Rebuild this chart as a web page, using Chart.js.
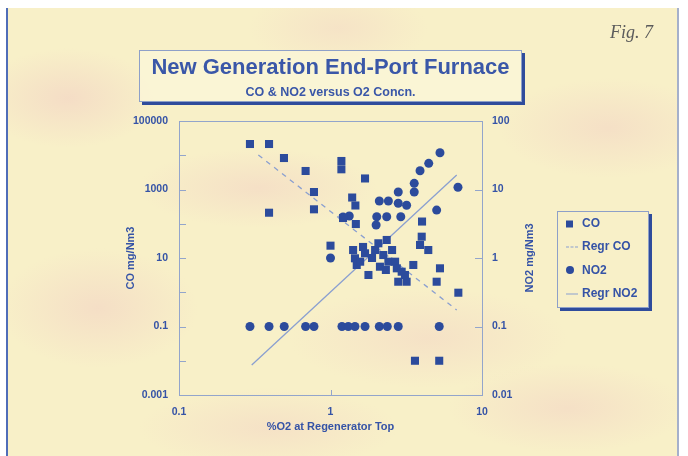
<!DOCTYPE html>
<html>
<head>
<meta charset="utf-8">
<script src="https://cdn.jsdelivr.net/npm/chart.js@4.4.1/dist/chart.umd.min.js"></script>
<style>
  html, body { margin: 0; padding: 0; background: #fff; }
  body { width: 688px; height: 456px; position: relative; overflow: hidden; font-family: "Liberation Sans", Arial, sans-serif; }
  .paper {
    position: absolute; left: 6px; top: 8px; width: 669px; height: 448px;
    border-left: 2px solid #4f6db8; border-right: 2px solid #a5b0cb;
    background:
      radial-gradient(ellipse 90px 50px at 60px 90px, rgba(242,208,196,.6), transparent),
      radial-gradient(ellipse 120px 40px at 250px 180px, rgba(242,208,196,.5), transparent),
      radial-gradient(ellipse 100px 60px at 90px 300px, rgba(242,208,196,.55), transparent),
      radial-gradient(ellipse 140px 50px at 420px 330px, rgba(242,208,196,.45), transparent),
      radial-gradient(ellipse 110px 50px at 600px 120px, rgba(242,208,196,.5), transparent),
      radial-gradient(ellipse 120px 45px at 560px 400px, rgba(242,208,196,.5), transparent),
      radial-gradient(ellipse 130px 40px at 260px 420px, rgba(242,208,196,.45), transparent),
      radial-gradient(ellipse 90px 40px at 330px 20px, rgba(242,208,196,.4), transparent),
      #f8f0c8;
  }
  #chart { position: absolute; left: 0; top: 0; }
  .fig { position: absolute; left: 610px; top: 22px; font: italic 18px "Liberation Serif", serif; color: #5b5b5b; }
  .titlebox {
    position: absolute; left: 139px; top: 50px; width: 381px; height: 50px;
    border: 1px solid #8ea0c8; box-shadow: 3px 3px 0 #2f4c9c; background: rgba(252,248,222,.6);
  }
  .t1 { position: absolute; left: 0; right: 0; top: 4px; text-align: center; font: bold 22px/24px "Liberation Sans", Arial, sans-serif; color: #3a57a8; }
  .t2 { position: absolute; left: 0; right: 0; top: 34px; text-align: center; font: bold 12.5px/14px "Liberation Sans", Arial, sans-serif; color: #3a57a8; }
  .legend {
    position: absolute; left: 557px; top: 211px; width: 90px; height: 94px;
    border: 1px solid #8ea0c8; box-shadow: 3px 3px 0 #2f4c9c; padding-bottom: 1px;
  }
  .legend .row { position: relative; height: 23.3px; font: bold 12px/23.3px "Liberation Sans", Arial, sans-serif; color: #3553a6; padding-left: 24px; }
  .legend .sym { position: absolute; left: 8px; top: 50%; transform: translateY(-50%); }
</style>
</head>
<body>
<div class="paper"></div>
<canvas id="chart" width="688" height="456"></canvas>
<div class="fig">Fig. 7</div>
<div class="titlebox">
  <div class="t1">New Generation End-Port Furnace</div>
  <div class="t2">CO &amp; NO2 versus O2 Concn.</div>
</div>
<div class="legend" id="legend"></div>
<script>
// ===== Dados
const coO2  = [0.294, 0.393, 0.493, 0.685, 1.18, 1.18, 1.69, 0.778, 0.393, 0.778, 1.39, 1.46, 1.21, 1.47,
               4.02, 4.0, 3.9, 4.42, 1.0, 1.41, 1.45, 1.49, 1.69, 1.57, 1.78, 1.97, 2.07, 2.35, 2.23, 2.12,
               2.41, 2.67, 2.74, 2.95, 2.80, 3.18, 3.10, 3.52, 5.28, 5.02, 6.98, 3.61, 5.22,
               1.88, 2.55, 2.32, 1.64];
const coVal = [21300, 21300, 8300, 3470, 6800, 3890, 2100, 845, 210, 264, 583, 341, 147, 98,
               116, 41.9, 24, 17.1, 22.9, 17.1, 9.8, 6.25, 13.7, 7.8, 3.19, 17.1, 26.9, 33.6, 12.2, 5.57,
               7.8, 7.8, 5.0, 3.98, 2.03, 2.03, 3.19, 6.25, 5.0, 2.03, 0.97, 0.01, 0.01,
               10, 17.1, 4.47, 21];

const no2O2  = [5.28, 4.45, 3.90, 3.57, 3.57, 6.94, 5.02, 2.80, 2.10, 2.41, 2.80, 3.18, 2.91, 2.02, 2.35, 2.0,
                1.21, 1.33, 1.0,
                0.294, 0.393, 0.495, 0.685, 0.778, 1.19, 1.31, 1.45, 1.69, 2.10, 2.37, 2.80, 5.22];
const no2Val = [34.4, 24.1, 18.8, 12.3, 9.2, 10.8, 5.0, 9.2, 6.8, 6.8, 6.3, 5.9, 4.0, 4.0, 4.0, 3.03,
                3.97, 4.1, 1.0,
                0.1, 0.1, 0.1, 0.1, 0.1, 0.1, 0.1, 0.1, 0.1, 0.1, 0.1, 0.1, 0.1];

// regressões (extremos das retas)
const regrCoO2   = [0.334, 6.81];
const regrCoVal  = [10160, 0.303];
const regrNo2O2  = [0.302, 6.81];
const regrNo2Val = [0.0274, 16.3];

// eixos
const xTicks     = [0.1, 1, 10];
const coTicks    = [0.001, 0.01, 0.1, 1, 10, 100, 1000, 10000, 100000];
const coLabelled = [100000, 1000, 10, 0.1, 0.001];
const no2Ticks   = [0.01, 0.1, 1, 10, 100];

const INK  = '#3553a6';
const MARK = '#2c4b9c';
const AXIS = '#93a5cb';
const REG  = '#8a9fd0';
const FONT = '"Liberation Sans", Arial, sans-serif';

function pts(xs, ys){ return xs.map((x, i) => ({ x, y: ys[i] })); }
function fixTicks(list){ return s => { s.ticks = list.map(v => ({ value: v })); }; }

// moldura + ticks para dentro + título do eixo direito
const framePlugin = {
  id: 'frame',
  beforeDatasetsDraw(chart) {
    const { ctx, chartArea: a, scales } = chart;
    ctx.save();
    ctx.strokeStyle = AXIS;
    ctx.lineWidth = 1;
    ctx.strokeRect(Math.round(a.left) + .5, Math.round(a.top) + .5, Math.round(a.width), Math.round(a.height));
    ctx.beginPath();
    scales.y.ticks.forEach(t => {
      const py = Math.round(scales.y.getPixelForValue(t.value)) + .5;
      ctx.moveTo(a.left, py); ctx.lineTo(a.left + 7, py);
    });
    scales.y2.ticks.forEach(t => {
      const py = Math.round(scales.y2.getPixelForValue(t.value)) + .5;
      ctx.moveTo(a.right, py); ctx.lineTo(a.right - 7, py);
    });
    scales.x.ticks.forEach(t => {
      const px = Math.round(scales.x.getPixelForValue(t.value)) + .5;
      ctx.moveTo(px, a.bottom); ctx.lineTo(px, a.bottom - 5);
    });
    ctx.stroke();

    ctx.fillStyle = INK;
    ctx.font = 'bold 11px ' + FONT;
    ctx.textAlign = 'center';
    ctx.textBaseline = 'middle';
    ctx.translate(a.right + 48, (a.top + a.bottom) / 2);
    ctx.rotate(-Math.PI / 2);
    ctx.fillText('NO2 mg/Nm3', 0, 0);
    ctx.restore();
  }
};

const tickFont = { family: FONT, size: 10.5, weight: 'bold' };
const titleFont = { family: FONT, size: 11, weight: 'bold' };

new Chart(document.getElementById('chart'), {
  type: 'scatter',
  data: {
    datasets: [
      { label: 'CO', data: pts(coO2, coVal), yAxisID: 'y',
        pointStyle: 'rect', pointRadius: 5.7, backgroundColor: MARK, borderColor: MARK, borderWidth: 0 },
      { label: 'Regr CO', data: pts(regrCoO2, regrCoVal), yAxisID: 'y', showLine: true,
        pointRadius: 0, borderColor: REG, borderWidth: 1.3, borderDash: [5, 5] },
      { label: 'NO2', data: pts(no2O2, no2Val), yAxisID: 'y2',
        pointStyle: 'circle', pointRadius: 4.5, backgroundColor: MARK, borderColor: MARK, borderWidth: 0 },
      { label: 'Regr NO2', data: pts(regrNo2O2, regrNo2Val), yAxisID: 'y2', showLine: true,
        pointRadius: 0, borderColor: REG, borderWidth: 1.3 }
    ]
  },
  options: {
    responsive: false,
    animation: false,
    events: [],
    layout: { padding: { left: 119, right: 146, top: 121, bottom: 21 } },
    plugins: { legend: { display: false }, tooltip: { enabled: false } },
    scales: {
      x: {
        type: 'logarithmic', position: 'bottom', min: 0.1, max: 10,
        afterBuildTicks: fixTicks(xTicks),
        afterFit: s => { s.height = 40; },
        grid: { display: false, drawTicks: false }, border: { display: false },
        ticks: { color: INK, font: tickFont, padding: 11, autoSkip: false, maxRotation: 0,
                 callback: v => String(v) },
        title: { display: true, text: '%O2 at Regenerator Top', color: INK, font: titleFont,
                 padding: { top: 0, bottom: 1 } }
      },
      y: {
        type: 'logarithmic', position: 'left', min: 0.001, max: 100000,
        afterBuildTicks: fixTicks(coTicks),
        afterFit: s => { s.width = 60; },
        grid: { display: false, drawTicks: false }, border: { display: false },
        ticks: { color: INK, font: tickFont, padding: 11, autoSkip: false,
                 callback: v => coLabelled.includes(v) ? String(v) : '' },
        title: { display: true, text: 'CO mg/Nm3', color: INK, font: titleFont,
                 padding: { top: 5, bottom: 0 } }
      },
      y2: {
        type: 'logarithmic', position: 'right', min: 0.01, max: 100,
        afterBuildTicks: fixTicks(no2Ticks),
        afterFit: s => { s.width = 60; },
        grid: { display: false, drawTicks: false }, border: { display: false },
        ticks: { color: INK, font: tickFont, padding: 10, autoSkip: false,
                 callback: v => String(v) }
      }
    }
  },
  plugins: [framePlugin]
});

// legenda em HTML
const legendItems = [
  { label: 'CO',       sym: `<span style="display:block;width:7px;height:7px;background:${MARK}"></span>` },
  { label: 'Regr CO',  sym: `<span style="display:block;width:12px;border-top:1.5px dashed ${REG}"></span>` },
  { label: 'NO2',      sym: `<span style="display:block;width:8px;height:8px;border-radius:50%;background:${MARK}"></span>` },
  { label: 'Regr NO2', sym: `<span style="display:block;width:12px;border-top:1.5px solid ${REG}"></span>` }
];
document.getElementById('legend').innerHTML = legendItems.map(it =>
  `<div class="row"><span class="sym">${it.sym}</span>${it.label}</div>`).join('');
</script>
</body>
</html>
